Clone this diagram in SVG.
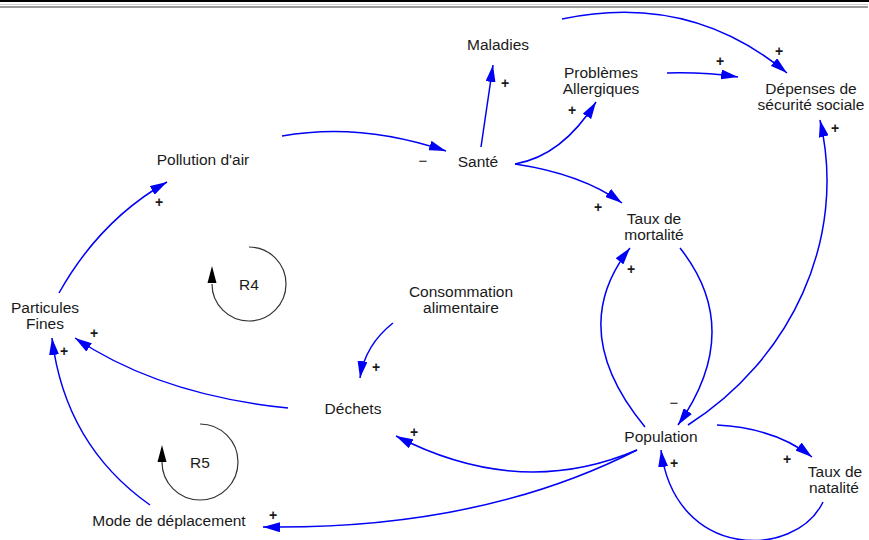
<svg xmlns="http://www.w3.org/2000/svg" width="869" height="540" viewBox="0 0 869 540">
  <style>
    .lbl { font-family: "Liberation Sans", Arial, sans-serif; font-size: 15.5px; fill: #1a1a1a; text-anchor: middle; }
    .pol { font-family: "Liberation Sans", Arial, sans-serif; font-size: 14px; font-weight: bold; fill: #1a1a1a; text-anchor: middle; }
    .neg { font-family: "Liberation Sans", Arial, sans-serif; font-size: 15px; fill: #1a1a1a; text-anchor: middle; }
    .link { fill: none; stroke: #0000f5; stroke-width: 1.5; marker-end: url(#head); }
    .loop { fill: none; stroke: #333; stroke-width: 1.2; }
  </style>
  <defs>
    <marker id="head" viewBox="0 0 17 10" refX="17" refY="5" markerWidth="17" markerHeight="10" markerUnits="userSpaceOnUse" orient="auto">
      <path d="M0,0 L17,5 L0,10 z" fill="#0000f5"/>
    </marker>
  </defs>
  <rect width="869" height="540" fill="#fff"/>

  <!-- window frame lines along the top -->
  <rect x="0" y="0" width="869" height="2" fill="#000"/>
  <rect x="0" y="4" width="868" height="1" fill="#d0d0d0"/>
  <rect x="0" y="6" width="868" height="2" fill="#9a9a9a"/>

  <!-- connectors -->
  <g id="connectors">
    <path class="link" d="M481,147 L493,65"/>
    <path class="link" d="M515,164 Q562,156 596,102"/>
    <path class="link" d="M515,164 Q582,174 622,203"/>
    <path class="link" d="M282,136 Q360,122 446,151"/>
    <path class="link" d="M562,19 Q690,-8 787,73"/>
    <path class="link" d="M667,73 Q705,72 738,77"/>
    <path class="link" d="M688,425 C790,360 848,240 820,120"/>
    <path class="link" d="M680,248 Q745,330 678,425"/>
    <path class="link" d="M645,427 Q565,330 630,248"/>
    <path class="link" d="M717,425 Q775,428 812,457"/>
    <path class="link" d="M823,502 C795,560 675,560 661,450"/>
    <path class="link" d="M637,450 Q520,500 396,436"/>
    <path class="link" d="M637,450 Q480,530 263,527"/>
    <path class="link" d="M393,323 Q365,345 360,378"/>
    <path class="link" d="M288,408 Q160,395 75,338"/>
    <path class="link" d="M150,505 Q65,445 52,338"/>
    <path class="link" d="M59,293 Q100,220 167,182"/>
  </g>

  <!-- polarity signs -->
  <g id="polarities">
    <text class="pol" x="505" y="88">+</text>
    <text class="pol" x="572" y="115">+</text>
    <text class="pol" x="598" y="212">+</text>
    <text class="pol" x="779" y="56">+</text>
    <text class="pol" x="720" y="66">+</text>
    <text class="pol" x="835" y="133">+</text>
    <text class="neg" x="423" y="166">−</text>
    <text class="pol" x="631" y="274">+</text>
    <text class="neg" x="674" y="408">−</text>
    <text class="pol" x="787" y="464">+</text>
    <text class="pol" x="674" y="468">+</text>
    <text class="pol" x="414" y="437">+</text>
    <text class="pol" x="273" y="520">+</text>
    <text class="pol" x="376" y="372">+</text>
    <text class="pol" x="94" y="338">+</text>
    <text class="pol" x="64" y="356">+</text>
    <text class="pol" x="159" y="207">+</text>
  </g>

  <!-- loop markers -->
  <g id="loop-R4">
    <path class="loop" d="M249,247 A37,37 0 1 1 212,284"/>
    <path d="M207.5,283 L216.5,283 L212,266 z" fill="#000"/>
    <text class="lbl" x="249" y="290">R4</text>
  </g>
  <g id="loop-R5">
    <path class="loop" d="M200,424 A38,38 0 1 1 162,462"/>
    <path d="M157.5,462 L166.5,462 L162,445 z" fill="#000"/>
    <text class="lbl" x="200" y="468">R5</text>
  </g>

  <!-- variables -->
  <g id="maladies"><text class="lbl" x="498" y="50">Maladies</text></g>
  <g id="problemes-allergiques"><text class="lbl" x="601" y="78">Problèmes</text><text class="lbl" x="601" y="94">Allergiques</text></g>
  <g id="depenses"><text class="lbl" x="811" y="94">Dépenses de</text><text class="lbl" x="811" y="110">sécurité sociale</text></g>
  <g id="pollution"><text class="lbl" x="203" y="165">Pollution d'air</text></g>
  <g id="sante"><text class="lbl" x="478" y="167">Santé</text></g>
  <g id="mortalite"><text class="lbl" x="654" y="224">Taux de</text><text class="lbl" x="654" y="240">mortalité</text></g>
  <g id="particules"><text class="lbl" x="45" y="313">Particules</text><text class="lbl" x="45" y="329">Fines</text></g>
  <g id="consommation"><text class="lbl" x="461" y="297">Consommation</text><text class="lbl" x="461" y="313">alimentaire</text></g>
  <g id="dechets"><text class="lbl" x="353" y="414">Déchets</text></g>
  <g id="population"><text class="lbl" x="661" y="442">Population</text></g>
  <g id="natalite"><text class="lbl" x="835" y="477">Taux de</text><text class="lbl" x="834" y="493">natalité</text></g>
  <g id="mode-deplacement"><text class="lbl" x="169" y="526">Mode de déplacement</text></g>
</svg>
